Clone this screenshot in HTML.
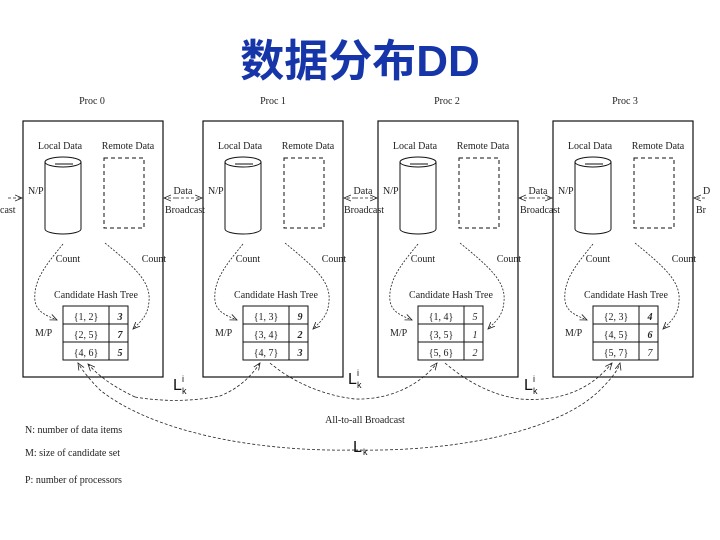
<!DOCTYPE html>
<html><head><meta charset="utf-8"><style>
body{margin:0;background:#fff;}
svg{display:block}
text{font-family:"Liberation Serif",serif;fill:#222;}
text.s{font-family:"Liberation Sans",sans-serif;fill:#111;}
.t{font-size:10px}
</style></head><body>
<svg width="720" height="540" viewBox="0 0 720 540" xmlns="http://www.w3.org/2000/svg">
<defs>
<marker id="a" markerWidth="8" markerHeight="8" refX="7" refY="4" orient="auto" markerUnits="userSpaceOnUse">
<path d="M0,1 L7,4 L0,7" fill="none" stroke="#222" stroke-width="0.8"/></marker>
<g id="proc">
<rect x="0" y="0" width="140" height="256" fill="none" stroke="#111" stroke-width="1.2"/>
<text class="t" x="37" y="28" text-anchor="middle">Local Data</text>
<text class="t" x="105" y="28" text-anchor="middle">Remote Data</text>
<path d="M22,41 L22,108 A18,5 0 0 0 58,108 L58,41" fill="none" stroke="#111"/>
<ellipse cx="40" cy="41" rx="18" ry="5" fill="none" stroke="#111"/>
<line x1="32" y1="43" x2="50" y2="43" stroke="#111"/>
<rect x="81" y="37" width="40" height="70" fill="none" stroke="#111" stroke-dasharray="4,3"/>
<text class="t" x="5" y="73">N/P</text>
<text class="t" x="45" y="141" text-anchor="middle">Count</text>
<text class="t" x="131" y="141" text-anchor="middle">Count</text>
<path d="M40,123 C22,145 10,160 12,180 C14,192 25,195 34,199" fill="none" stroke="#222" stroke-width="0.8" stroke-dasharray="2,1.5" marker-end="url(#a)"/>
<path d="M82,122 C110,145 128,160 126,180 C125,195 118,200 110,208" fill="none" stroke="#222" stroke-width="0.8" stroke-dasharray="2,1.5" marker-end="url(#a)"/>
<text class="t" x="73" y="177" text-anchor="middle">Candidate Hash Tree</text>
<rect x="40" y="185" width="65" height="54" fill="none" stroke="#111"/>
<line x1="40" y1="203" x2="105" y2="203" stroke="#111"/>
<line x1="40" y1="221" x2="105" y2="221" stroke="#111"/>
<line x1="86" y1="185" x2="86" y2="239" stroke="#111"/>
<text class="t" x="12" y="215">M/P</text>
</g>
</defs>
<text x="360" y="76" text-anchor="middle" style="font-family:'Liberation Sans','Noto Sans CJK SC',sans-serif;font-size:44px;font-weight:bold;fill:#1535a8">数据分布DD</text>
<text class="t" x="92" y="104" text-anchor="middle">Proc 0</text>
<text class="t" x="273" y="104" text-anchor="middle">Proc 1</text>
<text class="t" x="447" y="104" text-anchor="middle">Proc 2</text>
<text class="t" x="625" y="104" text-anchor="middle">Proc 3</text>
<use href="#proc" x="23" y="121"/>
<use href="#proc" x="203" y="121"/>
<use href="#proc" x="378" y="121"/>
<use href="#proc" x="553" y="121"/>
<g class="t">
<text x="86" y="320" text-anchor="middle">{1, 2}</text><text x="120" y="320" text-anchor="middle" font-style="italic" font-weight="bold">3</text>
<text x="86" y="338" text-anchor="middle">{2, 5}</text><text x="120" y="338" text-anchor="middle" font-style="italic" font-weight="bold">7</text>
<text x="86" y="356" text-anchor="middle">{4, 6}</text><text x="120" y="356" text-anchor="middle" font-style="italic" font-weight="bold">5</text>
<text x="266" y="320" text-anchor="middle">{1, 3}</text><text x="300" y="320" text-anchor="middle" font-style="italic" font-weight="bold">9</text>
<text x="266" y="338" text-anchor="middle">{3, 4}</text><text x="300" y="338" text-anchor="middle" font-style="italic" font-weight="bold">2</text>
<text x="266" y="356" text-anchor="middle">{4, 7}</text><text x="300" y="356" text-anchor="middle" font-style="italic" font-weight="bold">3</text>
<text x="441" y="320" text-anchor="middle">{1, 4}</text><text x="475" y="320" text-anchor="middle" font-style="italic">5</text>
<text x="441" y="338" text-anchor="middle">{3, 5}</text><text x="475" y="338" text-anchor="middle" font-style="italic">1</text>
<text x="441" y="356" text-anchor="middle">{5, 6}</text><text x="475" y="356" text-anchor="middle" font-style="italic">2</text>
<text x="616" y="320" text-anchor="middle">{2, 3}</text><text x="650" y="320" text-anchor="middle" font-style="italic" font-weight="bold">4</text>
<text x="616" y="338" text-anchor="middle">{4, 5}</text><text x="650" y="338" text-anchor="middle" font-style="italic" font-weight="bold">6</text>
<text x="616" y="356" text-anchor="middle">{5, 7}</text><text x="650" y="356" text-anchor="middle" font-style="italic">7</text>
</g>
<g stroke="#222" stroke-width="0.8" stroke-dasharray="3,2" fill="none">
<line x1="176" y1="198" x2="202" y2="198" marker-end="url(#a)"/><line x1="176" y1="198" x2="164" y2="198" marker-end="url(#a)"/>
<line x1="355" y1="198" x2="377" y2="198" marker-end="url(#a)"/><line x1="355" y1="198" x2="344" y2="198" marker-end="url(#a)"/>
<line x1="532" y1="198" x2="552" y2="198" marker-end="url(#a)"/><line x1="532" y1="198" x2="519" y2="198" marker-end="url(#a)"/>
<line x1="8" y1="198" x2="22" y2="198" marker-end="url(#a)"/>
<line x1="705" y1="198" x2="694" y2="198" marker-end="url(#a)"/>
</g>
<g class="t">
<text x="183" y="194" text-anchor="middle">Data</text><text x="185" y="213" text-anchor="middle">Broadcast</text>
<text x="363" y="194" text-anchor="middle">Data</text><text x="364" y="213" text-anchor="middle">Broadcast</text>
<text x="538" y="194" text-anchor="middle">Data</text><text x="540" y="213" text-anchor="middle">Broadcast</text>
<text x="0" y="213">cast</text>
<text x="703" y="194">D</text><text x="696" y="213">Br</text>
</g>
<g stroke="#222" stroke-width="0.8" stroke-dasharray="3,2" fill="none">
<path d="M135,397 C110,385 98,375 88,364" marker-end="url(#a)"/>
<path d="M135,397 C170,403 200,400 220,396 C240,388 252,375 260,363" marker-end="url(#a)"/>
<path d="M270,363 C290,380 320,395 355,399 C390,400 420,385 437,363" marker-end="url(#a)"/>
<path d="M445,363 C465,380 490,395 520,399 C560,402 590,390 612,363" marker-end="url(#a)"/>
<path d="M355,450 C250,452 150,430 100,390 C90,380 82,370 78,363" marker-end="url(#a)"/>
<path d="M355,450 C460,452 560,430 600,390 C612,378 618,370 620,363" marker-end="url(#a)"/>
</g>
<text class="s" x="173" y="390" font-size="16">L</text><text class="s" x="182" y="382" font-size="9">i</text><text class="s" x="182" y="394" font-size="9">k</text>
<text class="s" x="348" y="384" font-size="16">L</text><text class="s" x="357" y="376" font-size="9">i</text><text class="s" x="357" y="388" font-size="9">k</text>
<text class="s" x="524" y="390" font-size="16">L</text><text class="s" x="533" y="382" font-size="9">i</text><text class="s" x="533" y="394" font-size="9">k</text>
<text class="s" x="353" y="452" font-size="16">L</text><text class="s" x="363" y="455" font-size="9">k</text>
<text class="t" x="365" y="423" text-anchor="middle">All-to-all Broadcast</text>
<text class="t" x="25" y="433" font-size="9">N: number of data items</text>
<text class="t" x="25" y="456" font-size="9">M: size of candidate set</text>
<text class="t" x="25" y="483" font-size="9">P: number of processors</text>
</svg>
</body></html>
